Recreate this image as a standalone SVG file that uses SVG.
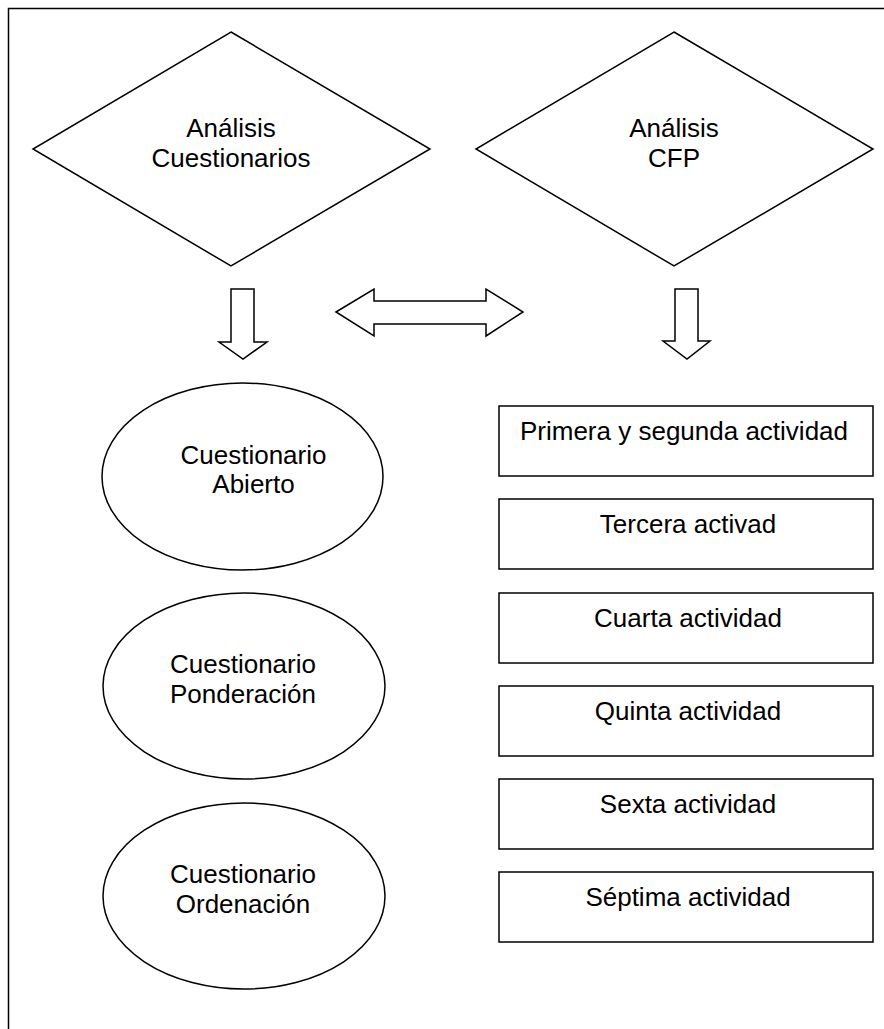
<svg xmlns="http://www.w3.org/2000/svg" width="884" height="1029" viewBox="0 0 884 1029">
<style>
.s{fill:#fff;stroke:#000;stroke-width:1.5}
.t{font-family:"Liberation Sans",Arial,sans-serif;font-size:26px;fill:#000;text-anchor:middle}
</style>
<rect x="0" y="0" width="884" height="1029" fill="#fff"/>
<path d="M8.5,1029 V8.5 H884" fill="none" stroke="#000" stroke-width="1.5"/>
<g id="diamond-cuestionarios">
<polygon class="s" points="231,32 430,149 231,266 33,149"/>
<text class="t" x="231" y="137">Análisis</text>
<text class="t" x="231" y="167">Cuestionarios</text>
</g>
<g id="diamond-cfp">
<polygon class="s" points="674,32 873,149 674,266 476,149"/>
<text class="t" x="674" y="137">Análisis</text>
<text class="t" x="674" y="167">CFP</text>
</g>
<g id="connectors">
<polygon class="s" points="231,289 254,289 254,342 267,342 243,359 219,342 231,342"/>
<polygon class="s" points="675,289 698,289 698,341 710,341 687,359 663,341 675,341"/>
<polygon class="s" points="336,312 374,289 374,301 486,301 486,289 523,312 486,336 486,324 374,324 374,336"/>
</g>
<g id="ellipse-abierto">
<ellipse class="s" cx="242.5" cy="476.5" rx="140.5" ry="93.5"/>
<text class="t" x="253.5" y="464">Cuestionario</text>
<text class="t" x="253.5" y="493">Abierto</text>
</g>
<g id="ellipse-ponderacion">
<ellipse class="s" cx="244" cy="686" rx="141" ry="93"/>
<text class="t" x="243" y="673">Cuestionario</text>
<text class="t" x="243" y="703">Ponderación</text>
</g>
<g id="ellipse-ordenacion">
<ellipse class="s" cx="244" cy="896" rx="141" ry="93"/>
<text class="t" x="243" y="883">Cuestionario</text>
<text class="t" x="243" y="913">Ordenación</text>
</g>
<g id="box1"><rect class="s" x="499" y="406" width="374" height="70"/><text class="t" x="684" y="440">Primera y segunda actividad</text></g>
<g id="box2"><rect class="s" x="499" y="499" width="374" height="70"/><text class="t" x="688" y="533">Tercera activad</text></g>
<g id="box3"><rect class="s" x="499" y="593" width="374" height="70"/><text class="t" x="688" y="627">Cuarta actividad</text></g>
<g id="box4"><rect class="s" x="499" y="686" width="374" height="70"/><text class="t" x="688" y="720">Quinta actividad</text></g>
<g id="box5"><rect class="s" x="499" y="779" width="374" height="70"/><text class="t" x="688" y="813">Sexta actividad</text></g>
<g id="box6"><rect class="s" x="499" y="872" width="374" height="70"/><text class="t" x="688" y="906">Séptima actividad</text></g>
</svg>
